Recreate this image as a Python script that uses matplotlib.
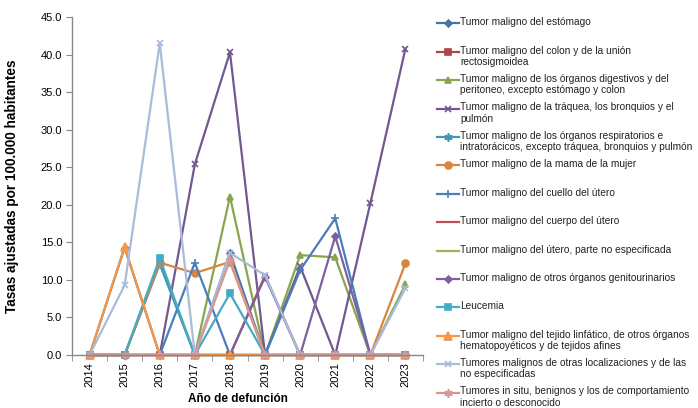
import numpy as np
import matplotlib
matplotlib.use("Agg")
import matplotlib.pyplot as plt
from matplotlib.lines import Line2D

plt.rcParams['font.family'] = ['Liberation Sans', 'DejaVu Sans']

years = ['2014', '2015', '2016', '2017', '2018', '2019', '2020', '2021', '2022', '2023']

labels = [
    'Tumor maligno del estómago',
    'Tumor maligno del colon y de la unión\nrectosigmoidea',
    'Tumor maligno de los órganos digestivos y del\nperitoneo, excepto estómago y colon',
    'Tumor maligno de la tráquea, los bronquios y el\npulmón',
    'Tumor maligno de los órganos respiratorios e\nintratorácicos, excepto tráquea, bronquios y pulmón',
    'Tumor maligno de la mama de la mujer',
    'Tumor maligno del cuello del útero',
    'Tumor maligno del cuerpo del útero',
    'Tumor maligno del útero, parte no especificada',
    'Tumor maligno de otros órganos genitourinarios',
    'Leucemia',
    'Tumor maligno del tejido linfático, de otros órganos\nhematopoyéticos y de tejidos afines',
    'Tumores malignos de otras localizaciones y de las\nno especificadas',
    'Tumores in situ, benignos y los de comportamiento\nincierto o desconocido',
]

estomago = [0, 14.3, 0, 0, 13.6, 0, 0, 0, 0, 0]
colon = [0, 0, 0, 0, 0, 0, 0, 0, 0, 0]
digestivos = [0, 0, 12.3, 0, 21.1, 0, 13.3, 13.0, 0, 9.4]
traquea = [0, 0, 0, 25.4, 40.3, 0, 11.8, 0, 20.2, 40.8]
respiratorios = [0, 0, 12.1, 0, 0, 0, 0, 0, 0, 0]
mama = [0, 0, 12.3, 10.9, 12.4, 0, 0, 0, 0, 12.2]
cuello = [0, 0, 0, 12.3, 0, 0, 11.3, 18.2, 0, 0]
cuerpo = [0, 0, 0, 0, 0, 10.6, 0, 0, 0, 0]
utero_ne = [0, 0, 0, 0, 0, 0, 0, 0, 0, 0]
genitourinarios = [0, 0, 0, 0, 0, 10.4, 0, 15.8, 0, 0]
leucemia = [0, 0, 12.9, 0, 8.2, 0, 0, 0, 0, 0]
linfatico = [0, 14.4, 0, 0, 0, 0, 0, 0, 0, 0]
otras = [0, 9.3, 41.5, 0, 13.6, 10.6, 0, 0, 0, 8.9]
in_situ = [0, 0, 0, 0, 12.6, 0, 0, 0, 0, 0]

series = [estomago, colon, digestivos, traquea, respiratorios, mama, cuello,
          cuerpo, utero_ne, genitourinarios, leucemia, linfatico, otras, in_situ]

colors = ['#4572A7', '#AA4643', '#89A54E', '#71588F', '#4198AF', '#DB843D',
          '#4A7EBB', '#C0504D', '#98B954', '#7D60A0', '#46AAC5', '#F79646',
          '#A9BCDB', '#D99694']
ast = (6, 2, 0)
markers = ['D', 's', '^', 'x', ast, 'o', '+', '_', None, 'D', 's', '^', 'x', ast]
msizes = [3.5, 5, 5, 5, 6, 5, 6, 5, 0, 3.5, 5, 5.5, 5, 6]

fig = plt.figure(figsize=(6.98, 4.08), dpi=100)
ax = fig.add_axes([72 / 698, 53 / 408, 351 / 698, 338 / 408])

x = np.arange(len(years))
for vals, c, m, ms in zip(series, colors, markers, msizes):
    ax.plot(x, vals, color=c, lw=1.6, marker=m, ms=ms, mew=1.2,
            mfc=c, mec=c, clip_on=False)

ax.set_xlim(-0.5, len(years) - 0.5)
ax.set_ylim(0, 45)
ax.set_yticks(np.arange(0, 45.1, 5))
ax.set_yticklabels([f'{v:.1f}' for v in np.arange(0, 45.1, 5)], fontsize=8)
ax.set_xticks(x)
ax.set_xticklabels(years, rotation=90, fontsize=8)
ax.set_xticks(np.arange(-0.5, len(years), 1), minor=True)
ax.tick_params(axis='x', which='major', length=0, pad=5)
ax.tick_params(axis='x', which='minor', length=4, color='#888888', direction='out')
ax.tick_params(axis='y', length=4, color='#888888', pad=3)
for s in ['top', 'right']:
    ax.spines[s].set_visible(False)
for s in ['left', 'bottom']:
    ax.spines[s].set_color('#888888')
    ax.spines[s].set_linewidth(1.0)

ax.set_ylabel('Tasas ajustadas por 100.000 habitantes', fontsize=9.8,
              fontweight='bold', family=['Liberation Sans Narrow', 'Liberation Sans'])
ax.yaxis.set_label_coords(-0.15, 0.5)
fig.text(238 / 698, 1 - 399 / 408, 'Año de defunción', fontsize=8.5,
         fontweight='bold', ha='center', va='center')

# legend drawn by hand so the handle sits on the first text line
y0, dy = 23.3, 28.4
for i, (lab, c, m, ms) in enumerate(zip(labels, colors, markers, msizes)):
    yp = 1 - (y0 + i * dy) / 408
    fig.add_artist(Line2D([437 / 698, 459 / 698], [yp, yp], color=c, lw=1.6,
                          transform=fig.transFigure))
    if m is not None:
        fig.add_artist(Line2D([448 / 698], [yp], color=c, marker=m, ms=ms,
                              mew=1.2, mfc=c, mec=c, transform=fig.transFigure))
    fig.text(460 / 698, yp + 6 / 408, lab, fontsize=7.3, va='top', ha='left',
             linespacing=1.15, color='#222222')

fig.savefig('out.png', dpi=100)
